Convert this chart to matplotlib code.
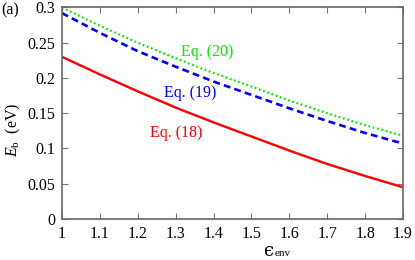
import matplotlib
matplotlib.use("Agg")
import matplotlib.pyplot as plt

eps = [1.0, 1.1, 1.2, 1.3, 1.4, 1.5, 1.6, 1.7, 1.8, 1.9]
eq18 = [0.230, 0.205, 0.181, 0.158, 0.137, 0.117, 0.097, 0.078, 0.061, 0.045]
eq19 = [0.292, 0.264, 0.238, 0.216, 0.195, 0.176, 0.157, 0.139, 0.122, 0.107]
eq20 = [0.300, 0.274, 0.250, 0.228, 0.207, 0.188, 0.168, 0.150, 0.133, 0.118]
xticks = [1.0, 1.1, 1.2, 1.3, 1.4, 1.5, 1.6, 1.7, 1.8, 1.9]
xticklabels = ["1", "1.1", "1.2", "1.3", "1.4", "1.5", "1.6", "1.7", "1.8", "1.9"]
yticks = [0, 0.05, 0.1, 0.15, 0.2, 0.25, 0.3]
yticklabels = ["0", "0.05", "0.1", "0.15", "0.2", "0.25", "0.3"]

plt.rcParams['font.family'] = 'serif'
plt.rcParams['font.serif'] = ['Liberation Serif', 'DejaVu Serif']
plt.rcParams['mathtext.fontset'] = 'custom'
plt.rcParams['mathtext.rm'] = 'Liberation Serif'
plt.rcParams['mathtext.it'] = 'Liberation Serif:italic'

fig = plt.figure(figsize=(4.15, 2.6), dpi=100)
ax = fig.add_axes([0.1494, 0.1577, 0.971 - 0.1494, 0.9712 - 0.1577])

ax.plot(eps, eq18, color='#ff0000', lw=1.7, solid_capstyle='butt')
ax.plot(eps, eq19, color='#0000ff', lw=1.9, dashes=(2.6, 1.6))
ax.plot(eps, eq20, color='#00ee00', lw=1.6, dashes=(0.8, 1.2))

ax.set_xlim(1.0, 1.9)
ax.set_ylim(0, 0.3)
ax.set_xticks(xticks)
ax.set_xticklabels(xticklabels)
ax.set_yticks(yticks)
ax.set_yticklabels(yticklabels)
ax.tick_params(direction='in', length=4, width=0.8, color='#777777',
               top=True, right=True, labelsize=11.5, pad=5)
for s in ax.spines.values():
    s.set_color('#666666')
    s.set_linewidth(1.2)

ax.text(1.383, 0.237, "Eq. (20)", color='#00ee00', fontsize=11.5, ha='center', va='center')
ax.text(1.339, 0.179, "Eq. (19)", color='#0000ff', fontsize=11.5, ha='center', va='center')
ax.text(1.301, 0.122, "Eq. (18)", color='#ff0000', fontsize=11.5, ha='center', va='center')

fig.text(13 / 415, 1 - 130 / 260, r"$E_{\rm b}$  (eV)", rotation=90, fontsize=11.5,
         ha='center', va='center')
fig.text(268 / 415, 1 - 251 / 260, "\u03f5", fontsize=13,
         family=['DejaVu Serif'], ha='center', va='center')
fig.text(275 / 415, 1 - 254 / 260, "env", fontsize=8,
         ha='left', va='center')
fig.text(1 / 415, 1 - 10 / 260, "(a)", fontsize=11.5, ha='left', va='center')

fig.savefig("out.png", dpi=100)
